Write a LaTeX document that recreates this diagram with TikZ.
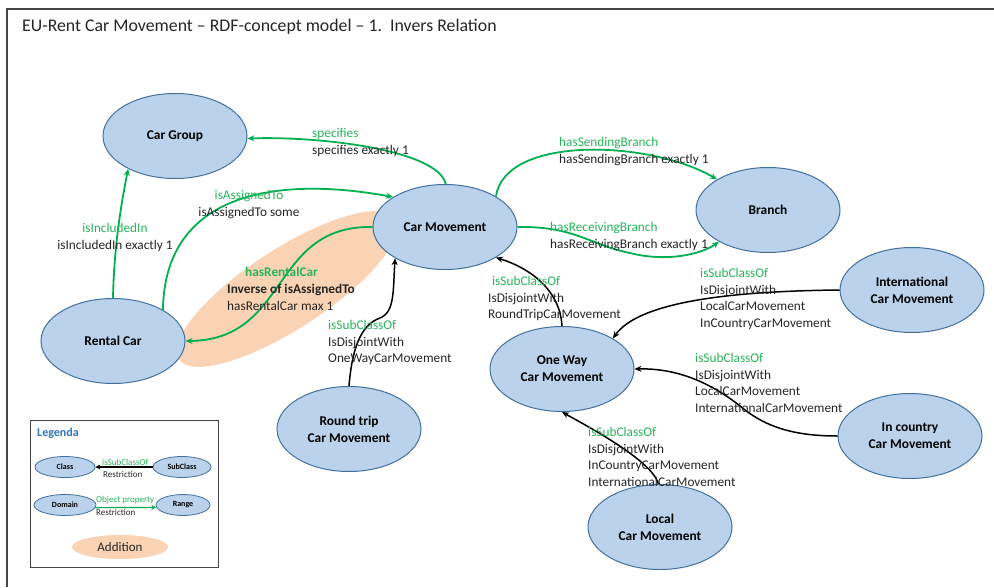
\documentclass[tikz,border=0pt]{standalone}
\usepackage{fontspec}
\setmainfont{Carlito}
\usetikzlibrary{shapes.geometric,arrows.meta}
\definecolor{nodefill}{RGB}{187,210,236}
\definecolor{nodeline}{RGB}{65,113,156}
\definecolor{addfill}{RGB}{249,211,180}
\definecolor{propgreen}{RGB}{0,176,80}
\definecolor{labgreen}{RGB}{40,180,90}
\definecolor{textgray}{RGB}{38,38,38}
\definecolor{legblue}{RGB}{46,117,182}
\definecolor{framegray}{RGB}{70,70,70}

\begin{document}
\begin{tikzpicture}[x=1pt,y=-1pt,
  cls/.style={ellipse, draw=nodeline, line width=1pt, fill=nodefill,
    minimum width=144pt, minimum height=85pt, inner sep=0pt, align=center,
    font=\fontsize{13.4}{17}\selectfont\bfseries, text=black},
  lcls/.style={ellipse, draw=nodeline, line width=0.8pt, fill=nodefill,
    minimum width=60pt, minimum height=21pt, inner sep=0pt,
    font=\fontsize{8}{9}\selectfont\bfseries, text=black},
  lab/.style={anchor=north west, inner sep=0pt, align=left,
    font=\fontsize{13.3}{16.5}\selectfont, text=textgray},
  clab/.style={lab, anchor=north, align=center},
  prop/.style={draw=propgreen, line width=1.8pt, -{Stealth[length=7pt,width=6pt]}},
  sub/.style={draw=black, line width=1.5pt, -{Stealth[length=7pt,width=6pt]}},
  smalllab/.style={anchor=west, inner sep=0pt, font=\fontsize{9}{10}\selectfont}
]
\useasboundingbox (0,0) rectangle (994,587);
\fill[white] (0,0) rectangle (994,587);

% frame and title
\draw[line width=2pt, framegray] (7,587) -- (7,9) -- (994,9);
\node[anchor=west, inner sep=0pt, font=\fontsize{17.8}{20}\selectfont, text=textgray]
  (title) at (22,27) {EU-Rent Car Movement -- RDF-concept model -- 1.\ \ Invers Relation};

% highlighted addition
\node[ellipse, fill=addfill, minimum width=258pt, minimum height=80pt, rotate=33]
  (addition) at (287,289) {};

% classes
\node[cls] (cg) at (175,136) {Car Group};
\node[cls] (cm) at (445,227) {Car Movement};
\node[cls] (br) at (768,210) {Branch};
\node[cls] (rc) at (113,341) {Rental Car};
\node[cls] (ow) at (562,369) {One Way\\Car Movement};
\node[cls] (rt) at (349,429) {Round trip\\Car Movement};
\node[cls] (int) at (912,290) {International\\Car Movement};
\node[cls] (ic) at (910,436) {In country\\Car Movement};
\node[cls] (lc) at (660,527) {Local\\Car Movement};

% object properties
\draw[prop] (cm.89) .. controls (438,150) and (320,136) .. (cg.-2);
\draw[prop] (rc.32) .. controls (165,185) and (290,178) .. (cm.150);
\draw[prop] (rc.90) .. controls (114,250) and (120,210) .. (cg.215);
\draw[prop] (cm.180) .. controls (270,225) and (290,340) .. (rc.0);
\draw[prop] (cm.31) .. controls (505,135) and (650,140) .. (br.149);
\draw[prop] (cm.0) .. controls (575,226) and (590,245) .. (630,253)
  .. controls (665,262) and (700,255) .. (br.213);

% subclass relations
\draw[sub] (rt.90) .. controls (352,350) and (360,325) .. (380,318)
  .. controls (395,312) and (393,290) .. (cm.212);
\draw[sub] (ow.90) .. controls (560,290) and (530,268) .. (cm.-31);
\draw[sub] (int.180) .. controls (740,291) and (640,300) .. (ow.31);
\draw[sub] (ic.180) .. controls (790,436) and (765,425) .. (745,410)
  .. controls (715,385) and (680,368) .. (ow.0);
\draw[sub] (lc.92) .. controls (652,460) and (585,425) .. (ow.270);

% property labels
\node[lab] (lspec) at (312,126) {{\color{labgreen}\strut specifies}\\specifies exactly 1};
\node[clab] (lassign) at (249,188) {{\color{labgreen}\strut isAssignedTo}\\isAssignedTo some};
\node[clab] (lincl) at (115,221) {{\color{labgreen}\strut isIncludedIn}\\isIncludedIn exactly 1};
\node[lab, font=\fontsize{13.3}{16.5}\selectfont\bfseries, text=labgreen]
  (lrent) at (245,265) {\strut hasRentalCar};
\node[lab] (linv) at (227,282) {\strut\textbf{Inverse of isAssignedTo}\\hasRentalCar max 1};
\node[lab] (lsend) at (559,135) {{\color{labgreen}\strut hasSendingBranch}\\hasSendingBranch exactly 1};
\node[lab] (lrecv) at (550,220) {{\color{labgreen}\strut hasReceivingBranch}\\hasReceivingBranch exactly 1};

% subclass labels
\node[lab] (lrt) at (328,318) {{\color{labgreen}\strut isSubClassOf}\\IsDisjointWith\\OneWayCarMovement};
\node[lab] (low) at (488,274) {{\color{labgreen}\strut\hspace{4pt}isSubClassOf}\\IsDisjointWith\\RoundTripCarMovement};
\node[lab] (lint) at (700,266) {{\color{labgreen}\strut isSubClassOf}\\IsDisjointWith\\LocalCarMovement\\InCountryCarMovement};
\node[lab] (lic) at (695,351) {{\color{labgreen}\strut isSubClassOf}\\IsDisjointWith\\LocalCarMovement\\InternationalCarMovement};
\node[lab] (llc) at (588,425) {{\color{labgreen}\strut isSubClassOf}\\IsDisjointWith\\InCountryCarMovement\\InternationalCarMovement};

% legend
\draw[line width=0.8pt, framegray] (30,420) rectangle (218,567);
\node[anchor=west, inner sep=0pt, font=\fontsize{12}{14}\selectfont\bfseries, text=legblue]
  (legtitle) at (37,433) {Legenda};
\node[lcls] (lgcls) at (65,467) {Class};
\node[lcls, minimum width=58pt] (lgsub) at (182,467) {SubClass};
\node[lcls, minimum width=62pt] (lgdom) at (65,505) {Domain};
\node[lcls, minimum width=54pt] (lgrng) at (183,505) {Range};
\node[ellipse, fill=addfill, minimum width=96pt, minimum height=24pt, inner sep=0pt,
  font=\fontsize{13}{15}\selectfont, text=textgray] (lgadd) at (120,547) {Addition};
\draw[draw=black, line width=1.2pt, -{Stealth[length=5pt,width=5pt]}] (lgsub) -- (lgcls);
\draw[draw=propgreen, line width=1.2pt, -{Stealth[length=5pt,width=5pt]}] (lgdom.-5) -- (lgrng.185);
\node[smalllab, text=labgreen] (lgsubl) at (102,462) {isSubClassOf};
\node[smalllab, text=textgray] (lgsubr) at (103,474) {Restriction};
\node[smalllab, text=labgreen] (lgpropl) at (96,500) {Object property};
\node[smalllab, text=textgray] (lgpropr) at (96,512) {Restriction};
\end{tikzpicture}
\end{document}
